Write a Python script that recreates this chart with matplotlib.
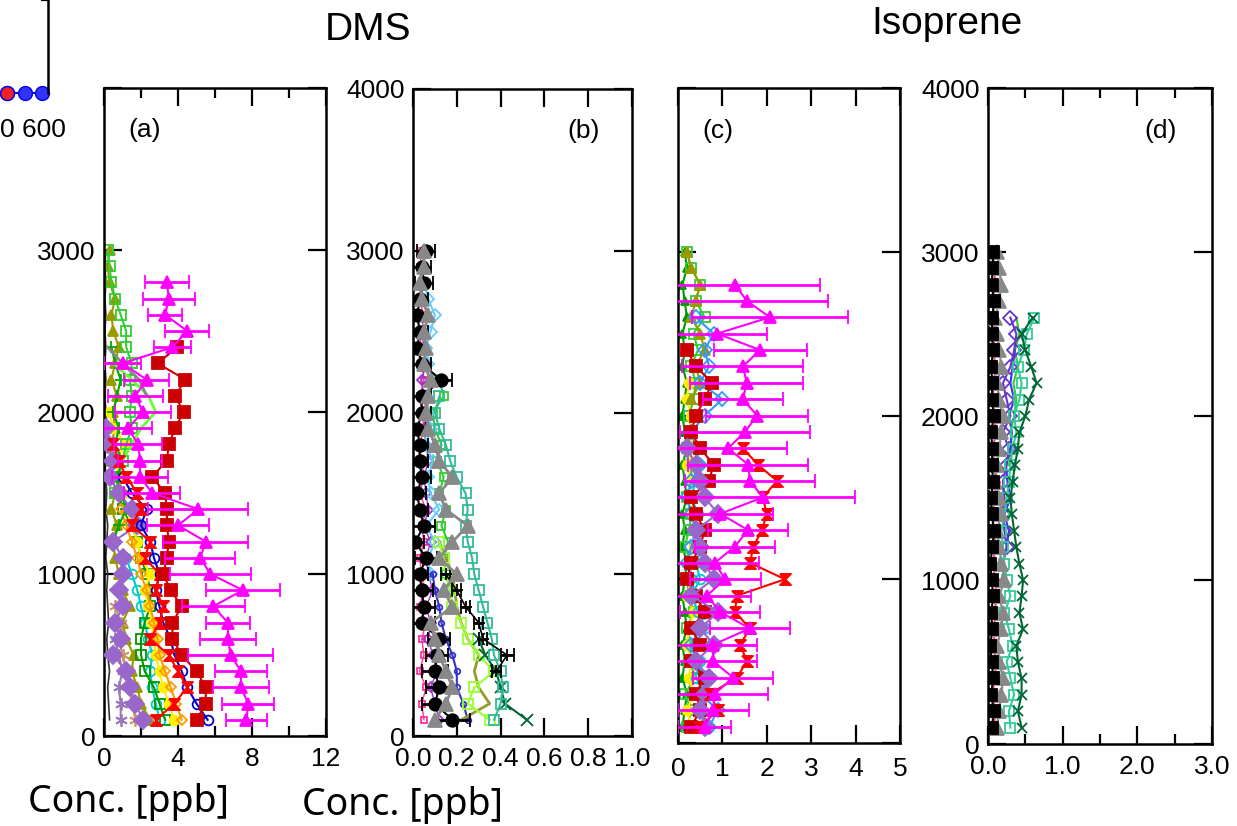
import matplotlib
matplotlib.use('Agg')
import matplotlib.pyplot as plt

plt.rcParams['font.family'] = ['Liberation Sans', 'DejaVu Sans']

# altitude levels [m]
ALT = [100, 200, 300, 400, 500, 600, 700, 800, 900, 1000,
       1100, 1200, 1300, 1400, 1500, 1600, 1700, 1800, 1900, 2000,
       2100, 2200, 2300, 2400, 2500, 2600, 2700, 2800, 2900, 3000]
Y_TICKS = [0, 1000, 2000, 3000, 4000]

# ---- (a) DMS, ppb ----
a_mag = [7.7, 7.8, 7.4, 7.4, 6.85, 6.7, 6.7, 5.9, 7.5, 5.75, 5.2, 5.5, 4.0, 5.1,
         2.6, 1.95, 1.95, 1.85, 1.3, 2.1, 1.7, 2.3, 1.0, 3.7, 4.5, 3.3, 3.5, 3.4]
a_mag_err = [1.1, 1.4, 1.5, 1.4, 2.3, 1.5, 1.2, 1.7, 2.0, 2.2, 1.9, 2.3, 1.7, 2.7,
             1.5, 1.5, 1.2, 1.3, 1.3, 1.5, 1.5, 1.2, 1.0, 1.0, 1.2, 0.9, 1.4, 1.2]
a_dred = [5.0, 5.5, 5.5, 5.0, 4.2, 3.7, 3.7, 4.2, 3.6, 3.2, 3.4, 3.5, 3.4, 3.4,
          3.3, 2.6, 3.4, 3.5, 3.85, 4.3, 3.85, 4.4, 2.9, 3.95]
a_blue = [5.6, 5.0, 4.5, 4.2, 3.8, 3.6, 3.2, 3.0, 2.8, 3.0, 2.7, 2.5, 2.0, 2.3, 1.5, 1.0]
a_red = [2.8, 3.8, 4.5, 4.0, 3.5, 2.5, 3.0, 3.2, 2.8, 3.0, 2.2, 2.5, 1.5, 2.0, 1.8, 1.2, 0.8, 0.5]
a_yel = [3.8, 3.5, 3.2, 3.0, 2.8, 2.7, 2.6, 2.4, 2.2, 2.5, 2.0, 1.8, 1.5, 1.2, 1.0,
         0.8, 0.6, 1.2, 0.5, 0.3]
a_dgrn = [3.3, 3.0, 2.7, 2.2, 2.0, 2.0, 2.2, 2.5, 2.5, 2.3, 2.0, 1.8, 1.5, 1.0, 0.8]
a_grn = [0.6, 0.8, 1.0, 1.2, 1.5, 1.4, 1.5, 1.4, 1.5, 1.2, 1.2, 0.9, 0.6, 0.4, 0.3, 0.2]
a_lime = [1.0, 1.5, 2.0, 2.8, 2.4, 1.5, 0.5]
a_cyan = [3.0, 2.8, 2.6, 2.5, 2.6, 2.4, 2.2, 2.0, 1.8, 1.5, 1.2]
a_olive = [2.5, 2.0, 1.8, 1.5, 1.6, 1.2, 1.0, 1.4, 1.0, 0.8, 0.6, 0.5, 0.7, 0.4, 0.6,
           0.5, 0.3, 0.4, 0.6, 0.5, 0.7, 0.4, 0.6, 0.8, 0.5, 0.4, 0.6, 0.3, 0.2, 0.3]
a_purp = [2.1, 1.7, 1.4, 1.2, 0.5, 0.9, 0.6, 1.0, 0.8, 1.0, 1.0, 0.5, 1.8, 1.5, 0.8,
          0.3, 0.5, 0.2, 0.1]
a_lav = [0.9, 0.9, 0.8, 1.0, 0.8, 0.6]
a_tan = [1.7, 1.5, 1.4, 1.2, 1.0, 0.8, 0.9, 0.6]
a_gray = [2.3, 1.9, 1.0, 0.2]
a_orng = [4.2, 3.9, 3.6, 3.3, 3.0, 2.9, 2.7, 2.5, 2.3, 2.0, 1.8, 1.5, 1.2, 0.9]
a_dark = [0.3, 0.25, 0.2, 0.3, 0.2, 0.15, 0.25, 0.2, 0.15, 0.2, 0.1, 0.15, 0.2, 0.1, 0.15,
          0.1, 0.05, 0.1, 0.15, 0.1, 0.05, 0.1, 0.05, 0.1, 0.05, 0.1, 0.05, 0.1, 0.05, 0.1]
a_grn2 = [0.5, 0.8, 1.2, 0.9, 0.7, 1.0, 0.6, 0.8, 0.5, 0.7, 0.9, 0.6, 0.4]

# ---- (b) DMS, ppb ----
b_gray = [0.10, 0.15, 0.18, 0.15, 0.12, 0.10, 0.08, 0.18, 0.14, 0.20, 0.12, 0.18, 0.25, 0.15, 0.12,
          0.18, 0.12, 0.10, 0.07, 0.06, 0.07, 0.08, 0.05, 0.06, 0.05, 0.07, 0.04, 0.03, 0.05, 0.05]
b_blk = [0.18, 0.10, 0.12, 0.10, 0.11, 0.12, 0.04, 0.05, 0.04, 0.03, 0.06, 0.01, 0.05, 0.03, 0.02,
         0.04, 0.03, 0.03, 0.02, 0.04, 0.04, 0.13, 0.04, 0.02, 0.03, 0.02, 0.03, 0.05, 0.04, 0.06]
b_blk_err = [0.08, 0.06, 0.06, 0.06, 0.05, 0.05, 0.06, 0.05, 0.05, 0.04, 0.05, 0.04, 0.05, 0.04, 0.04,
             0.04, 0.04, 0.04, 0.04, 0.04, 0.04, 0.05, 0.04, 0.04, 0.04, 0.04, 0.04, 0.04, 0.04, 0.04]
b_teal = [0.37, 0.40, 0.41, 0.40, 0.37, 0.36, 0.34, 0.32, 0.30, 0.28, 0.27, 0.25, 0.24, 0.25,
          0.24, 0.20, 0.17, 0.15, 0.12, 0.10, 0.12]
b_cross = [0.38, 0.43, 0.32, 0.30, 0.24, 0.20, 0.15]
b_cross_err = [0.02, 0.03, 0.02, 0.02, 0.02, 0.02, 0.02]
b_dgrn = [0.52, 0.42, 0.40, 0.38, 0.33, 0.30]
b_lime = [0.35, 0.25, 0.28, 0.37, 0.30, 0.25, 0.22, 0.18, 0.17, 0.15, 0.14, 0.12]
b_olive = [0.22, 0.35, 0.30, 0.28, 0.30, 0.25, 0.22, 0.20, 0.19, 0.18, 0.15, 0.12]
b_blue = [0.25, 0.23, 0.20, 0.20, 0.18, 0.15, 0.13, 0.12, 0.10, 0.09]
b_pink = [0.05, 0.04, 0.06, 0.03, 0.05, 0.04, 0.06, 0.03, 0.05, 0.04, 0.03, 0.05, 0.04, 0.06, 0.03,
          0.05, 0.04, 0.03, 0.05, 0.04, 0.03, 0.05, 0.04, 0.03, 0.04, 0.05, 0.03, 0.04, 0.03, 0.04]
b_purp = [0.12, 0.10, 0.08, 0.11, 0.09, 0.07, 0.08, 0.06, 0.09, 0.07, 0.06, 0.08, 0.05, 0.07, 0.06,
          0.05, 0.07, 0.06, 0.05, 0.06, 0.05, 0.04, 0.06, 0.05, 0.04]
b_grn = [0.17, 0.15, 0.14, 0.16, 0.13, 0.15, 0.12, 0.14, 0.11, 0.13, 0.10, 0.09, 0.14, 0.12]
b_lblue = [0.08, 0.07, 0.10, 0.06, 0.12, 0.08, 0.07, 0.09, 0.06, 0.08, 0.07, 0.06, 0.09, 0.07,
           0.06, 0.08, 0.10, 0.07, 0.05]

# ---- (c) isoprene, ppb ----
c_mag = [0.6, 0.79, 0.83, 1.24, 0.79, 0.79, 1.62, 0.95, 0.65, 1.06, 0.83, 1.28, 1.58, 0.95,
         1.91, 1.62, 1.58, 1.13, 1.51, 1.78, 1.46, 1.55, 1.46, 1.85, 0.88, 2.07, 1.55, 1.28]
c_mag_err = [0.6, 0.8, 1.2, 0.9, 1.0, 1.0, 0.9, 0.9, 1.0, 0.8, 1.0, 0.9, 0.9, 1.2,
             2.08, 1.47, 1.35, 1.32, 1.46, 1.15, 0.9, 1.27, 1.36, 1.05, 1.12, 1.76, 1.83, 1.92]
c_red = [0.5, 0.9, 0.72, 1.33, 1.55, 1.4, 1.62, 1.28, 1.33, 2.41, 1.62, 1.7, 1.89, 2.0,
         1.91, 2.23, 1.8, 1.46]
c_dred = [0.3, 0.5, 0.4, 0.6, 0.3, 0.5, 0.3, 0.6, 0.4, 0.2, 0.3, 0.5, 0.6, 0.4, 0.3,
          0.7, 0.8, 0.5, 0.3, 0.4, 0.6, 0.77, 0.4, 0.2]
c_purp = [0.6, 0.5, 0.6, 0.7, 0.4, 0.8, 0.5, 0.9, 0.3, 0.8, 0.6, 0.5, 0.4, 0.9, 0.6, 0.5, 0.4, 0.2]
c_lblue = [0.7, 0.9, 0.5, 0.6, 0.4, 0.3, 0.5, 0.6, 0.4, 0.3, 0.2, 0.3, 0.4, 0.3, 0.2,
           0.3, 0.5, 0.4, 0.3, 0.6, 1.0, 0.5, 0.7, 0.6, 0.8, 0.4]
c_grn = [0.2, 0.3, 0.15, 0.4, 0.25, 0.3, 0.2, 0.35, 0.25, 0.2, 0.3, 0.15, 0.25, 0.3, 0.2,
         0.35, 0.25, 0.2, 0.3, 0.25, 0.35, 0.4, 0.3, 0.45, 0.35, 0.6, 0.4, 0.5, 0.3, 0.2]
c_yel = [0.3, 0.2, 0.35, 0.25, 0.3, 0.2, 0.25, 0.35, 0.2, 0.3, 0.25, 0.35, 0.4, 0.3, 0.25,
         0.3, 0.2, 0.35, 0.25, 0.3, 0.2, 0.25]
c_dgrn = [0.1, 0.15, 0.2, 0.1, 0.15, 0.1, 0.2, 0.15, 0.1, 0.15, 0.2, 0.1, 0.15, 0.1, 0.2,
          0.15, 0.1, 0.2, 0.15, 0.1, 0.15, 0.2, 0.1, 0.15, 0.1, 0.2, 0.15, 0.1, 0.2, 0.15]
c_cyan = [0.7, 0.5, 0.6, 0.4, 0.5, 0.35, 0.6, 0.45, 0.3, 0.5, 0.4, 0.55, 0.35, 0.45, 0.3, 0.4]
c_olive = [0.3, 0.5, 0.4, 0.6, 0.5, 0.3, 0.4, 0.5, 0.3, 0.2]

# ---- (d) isoprene, ppb ----
d_blk = [0.05, 0.08, 0.04, 0.07, 0.05, 0.03, 0.06, 0.04, 0.07, 0.05, 0.03, 0.06, 0.08, 0.05, 0.04,
         0.07, 0.05, 0.06, 0.04, 0.08, 0.05, 0.06, 0.04, 0.07, 0.05, 0.06, 0.08, 0.05, 0.06, 0.07]
d_gray = [0.12, 0.15, 0.18, 0.20, 0.15, 0.12, 0.18, 0.20, 0.15, 0.22, 0.18, 0.15, 0.12, 0.18, 0.15,
          0.10, 0.12, 0.15, 0.18, 0.20, 0.15, 0.12, 0.18, 0.15, 0.12, 0.10, 0.15, 0.18, 0.15, 0.12]
d_dgrn = [0.45, 0.40, 0.45, 0.45, 0.40, 0.38, 0.47, 0.42, 0.45, 0.47, 0.42, 0.38, 0.35, 0.32, 0.30,
          0.33, 0.36, 0.40, 0.42, 0.50, 0.55, 0.65, 0.58, 0.50, 0.45, 0.60]
d_teal = [0.30, 0.28, 0.35, 0.30, 0.25, 0.33, 0.28, 0.22, 0.30, 0.25, 0.22, 0.20, 0.18, 0.22, 0.25,
          0.28, 0.30, 0.33, 0.38, 0.35, 0.42, 0.45, 0.40, 0.48, 0.52, 0.62]
d_purp = [0.25, 0.22, 0.20, 0.22, 0.20, 0.25, 0.28, 0.20, 0.30, 0.25, 0.20, 0.30, 0.35, 0.38, 0.30]
d_pink = [0.08, 0.10, 0.06, 0.09, 0.11, 0.07, 0.10, 0.08, 0.12, 0.09, 0.07, 0.10, 0.08, 0.06, 0.09,
          0.11, 0.08, 0.07, 0.10, 0.09, 0.06, 0.08, 0.10, 0.07, 0.09, 0.08, 0.06, 0.10, 0.08, 0.07]
d_grn = [0.28, 0.32, 0.30, 0.35, 0.38, 0.34, 0.40, 0.36, 0.42, 0.38]
d_blue = [0.20, 0.25, 0.28, 0.22, 0.30, 0.26, 0.24, 0.30, 0.32, 0.28, 0.35, 0.30, 0.33, 0.36]

# fragment of a neighbouring plot (top-left corner)
frag_x = [0, 300, 600]
frag_y = [0, 0, 0]

W, H = 1237, 826
fig = plt.figure(figsize=(W / 100, H / 100), dpi=100)


def box(l, t, r, b):
    return [l / W, 1 - b / H, (r - l) / W, (b - t) / H]


HG = [(-1, 1), (1, 1), (-1, -1), (1, -1), (-1, 1)]  # hourglass marker
AST = (6, 2, 0)
TICK_FS = 19


def prof(ax, vals, i0, c, m, ms=7, filled=True, lw=1.5, z=2, err=None):
    alts = ALT[i0:i0 + len(vals)]
    kw = dict(color=c, marker=m, ms=ms, lw=lw, mfc=c if filled else 'none',
              mec=c, mew=1.3, zorder=z)
    if err is None:
        ax.plot(vals, alts, **kw)
    else:
        ax.errorbar(vals, alts, xerr=err, capsize=5, elinewidth=2, capthick=2, **kw)


def frame(ax, xlim, major, labels, minor, ylab, xpad):
    ax.set_xlim(xlim)
    ax.set_ylim(0, 4000)
    ax.set_xticks(major)
    ax.set_xticklabels(labels)
    ax.set_xticks(minor, minor=True)
    ax.set_yticks(Y_TICKS)
    ax.set_yticklabels(ylab)
    ax.tick_params(which='both', direction='in', top=True, right=True, width=1.6,
                   labelsize=TICK_FS)
    ax.tick_params(which='major', length=13)
    ax.tick_params(which='minor', length=7)
    ax.tick_params(axis='x', pad=xpad)
    ax.tick_params(axis='y', pad=6)
    for s in ax.spines.values():
        s.set_linewidth(1.8)


def tag(ax, x, s):
    ax.text(x, 0.935, s, transform=ax.transAxes, fontsize=19, ha='center', va='center')


# (a)
ax = fig.add_axes(box(104, 88, 326, 736))
prof(ax, a_dark, 0, '#333333', None, lw=1.2)
prof(ax, a_olive, 0, '#999900', '^', ms=7)
prof(ax, a_lav, 0, '#9977bb', AST, ms=9)
prof(ax, a_tan, 0, '#cc9966', AST, ms=9)
prof(ax, a_cyan, 0, '#00cccc', 'o', filled=False)
prof(ax, a_dgrn, 0, '#009900', 's', filled=False)
prof(ax, a_yel, 0, '#ffee00', 'o')
prof(ax, a_orng, 0, '#ff9900', 'D', ms=5, filled=False)
prof(ax, a_grn, 14, '#33cc33', 's', filled=False)
prof(ax, a_grn2, 11, '#00aa00', '+', ms=8)
prof(ax, a_lime, 16, '#66ff33', None, lw=2)
prof(ax, a_gray, 20, '#888888', None, lw=2)
prof(ax, a_purp, 0, '#9966cc', 'D', ms=9, z=3)
prof(ax, a_blue, 0, '#0000cc', 'o', filled=False, z=3)
prof(ax, a_red, 0, '#ff0000', HG, ms=8, z=3)
prof(ax, a_dred, 0, '#cc0000', 's', ms=8, z=4)
prof(ax, a_mag, 0, '#ff00ff', '^', ms=8, z=5, err=a_mag_err)
frame(ax, (0, 12), [0, 4, 8, 12], ['0', '4', '8', '12'], [2, 6, 10],
      ['0', '1000', '2000', '3000', ''], 8)
tag(ax, 0.185, '(a)')

# (b)
ax = fig.add_axes(box(413, 89, 632, 736))
prof(ax, b_pink, 0, '#ff3399', 's', ms=5, filled=False, lw=1)
prof(ax, b_purp, 0, '#9933cc', 'D', ms=5, filled=False, lw=1)
prof(ax, b_grn, 8, '#33cc33', 's', ms=6, filled=False)
prof(ax, b_lblue, 9, '#66ccff', 'D', ms=6, filled=False)
prof(ax, b_blue, 0, '#3333cc', 'o', ms=4, filled=False)
prof(ax, b_olive, 0, '#999933', None, lw=2)
prof(ax, b_lime, 0, '#99ff33', 's', filled=False)
prof(ax, b_dgrn, 0, '#006633', 'x', ms=8)
prof(ax, b_teal, 0, '#33bb99', 's', filled=False)
prof(ax, b_cross, 3, '#000000', '+', ms=9, lw=1.2, err=b_cross_err)
prof(ax, b_blk, 0, '#000000', 'o', ms=9, z=3, err=b_blk_err)
prof(ax, b_gray, 0, '#888888', '^', ms=10, lw=2, z=4)
frame(ax, (0, 1.0), [0, 0.2, 0.4, 0.6, 0.8, 1.0],
      ['0.0', '0.2', '0.4', '0.6', '0.8', '1.0'], [],
      ['0', '1000', '2000', '3000', '4000'], 8)
tag(ax, 0.78, '(b)')

# (c)
ax = fig.add_axes(box(678, 88, 900, 743))
prof(ax, c_dgrn, 0, '#009900', '^', ms=6)
prof(ax, c_grn, 0, '#33cc33', 's', filled=False)
prof(ax, c_yel, 0, '#ffee00', 'o')
prof(ax, c_cyan, 0, '#00cccc', 'o', filled=False)
prof(ax, c_olive, 20, '#999900', '^', ms=7)
prof(ax, c_lblue, 0, '#3399ff', 'D', filled=False)
prof(ax, c_dred, 0, '#cc0000', 's', ms=8, z=3)
prof(ax, c_purp, 0, '#9966cc', 'D', ms=9, z=3)
prof(ax, c_red, 0, '#ff0000', HG, ms=8, z=3)
prof(ax, c_mag, 0, '#ff00ff', '^', ms=8, z=5, err=c_mag_err)
frame(ax, (0, 5), [0, 1, 2, 3, 4, 5], ['0', '1', '2', '3', '4', '5'], [],
      ['', '', '', '', ''], 10)
tag(ax, 0.18, '(c)')

# (d)
ax = fig.add_axes(box(988, 88, 1212, 744))
prof(ax, d_pink, 0, '#ff3399', 'o', ms=5)
prof(ax, d_grn, 16, '#33cc33', None, lw=1.5)
prof(ax, d_blue, 10, '#3333ff', None, lw=1.5)
prof(ax, d_purp, 11, '#6633cc', 'D', filled=False)
prof(ax, d_teal, 0, '#33cc99', 's', filled=False)
prof(ax, d_dgrn, 0, '#006633', 'x', ms=7)
prof(ax, d_gray, 0, '#888888', '^', ms=10, z=3)
prof(ax, d_blk, 0, '#000000', 's', ms=8, z=4)
frame(ax, (0, 3), [0, 1, 2, 3], ['0.0', '1.0', '2.0', '3.0'], [0.5, 1.5, 2.5],
      ['0', '1000', '2000', '3000', '4000'], 8)
tag(ax, 0.77, '(d)')

# fragment of a neighbouring figure
fx = fig.add_axes(box(-12, 0, 48, 93))
fx.set_xlim(-326, 703)
fx.set_ylim(0, 1)
for k in ['top', 'bottom', 'left']:
    fx.spines[k].set_visible(False)
fx.spines['right'].set_linewidth(1.8)
fx.set_xticks([])
fx.set_yticks([1])
fx.yaxis.tick_right()
fx.tick_params(axis='y', direction='in', length=5, width=1.6, labelright=False)
fx.plot(frag_x, frag_y, color='#0000ee', marker='o', ms=10, mfc='#3333ff', mec='#0000ee',
        lw=1.5, clip_on=False)
fx.plot(frag_x[:1], frag_y[:1], marker='o', ms=10, mfc='#ee2222', mec='#0000ee',
        lw=0, clip_on=False)
fig.text(0 / W, 1 - 130 / H, '0 600', fontsize=TICK_FS, va='center', ha='left')

# titles and axis captions
fig.text(368 / W, 1 - 30 / H, 'DMS', fontsize=28, ha='center', va='center')
fig.text(947 / W, 1 - 24 / H, 'Isoprene', fontsize=28, ha='center', va='center')
fig.text(128 / W, 1 - 812 / H, 'Conc. [ppb]', fontsize=27, ha='center', va='baseline',
         family=['Noto Sans', 'DejaVu Sans'])
fig.text(402 / W, 1 - 815 / H, 'Conc. [ppb]', fontsize=27, ha='center', va='baseline',
         family=['Noto Sans', 'DejaVu Sans'])

fig.savefig('out.png', dpi=100)
